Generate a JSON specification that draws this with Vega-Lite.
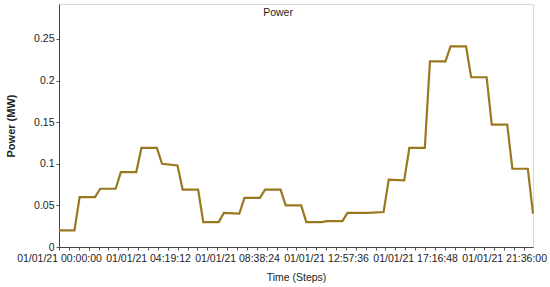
{
  "$schema": "https://vega.github.io/schema/vega-lite/v6.json",
  "width": 474,
  "height": 243,
  "autosize": {"type": "none"},
  "padding": {"left": 59, "top": 4, "right": 17, "bottom": 40},
  "background": "white",
  "config": {
    "view": {"stroke": "#d8d8d8", "strokeWidth": 1},
    "font": "Liberation Sans"
  },
  "encoding": {
    "x": {
      "field": "hour",
      "type": "quantitative",
      "scale": {"domain": [0, 23], "nice": false, "zero": false},
      "axis": {
        "title": "Time (Steps)",
        "titleFont": "Liberation Sans",
        "titleFontSize": 10.5,
        "titleFontWeight": "normal",
        "titleColor": "#222222",
        "titlePadding": 9,
        "values": [0, 0.48, 0.96, 1.44, 1.92, 2.4, 2.88, 3.36, 3.84, 4.32, 4.8, 5.28, 5.76, 6.24, 6.72, 7.2, 7.68, 8.16, 8.64, 9.12, 9.6, 10.08, 10.56, 11.04, 11.52, 12, 12.48, 12.96, 13.44, 13.92, 14.4, 14.88, 15.36, 15.84, 16.32, 16.8, 17.28, 17.76, 18.24, 18.72, 19.2, 19.68, 20.16, 20.64, 21.12, 21.6, 22.08, 22.56],
        "labelExpr": "abs(datum.value/4.32 - round(datum.value/4.32)) < 0.01 ? '01/01/21 ' + utcFormat(round(datum.value*3600)*1000, '%H:%M:%S') : ''",
        "labelOverlap": false,
        "labelBound": false,
        "labelFlush": false,
        "labelFont": "Liberation Sans",
        "labelFontSize": 10.5,
        "labelColor": "#222222",
        "labelPadding": 3,
        "tickSize": 3,
        "tickColor": "#555555",
        "domainColor": "#444444",
        "grid": false
      }
    },
    "y": {
      "field": "power",
      "type": "quantitative",
      "scale": {"domain": [0, 0.292], "nice": false},
      "axis": {
        "title": "Power (MW)",
        "titleFont": "Liberation Sans",
        "titleFontSize": 11,
        "titleFontWeight": "bold",
        "titleColor": "#222222",
        "titlePadding": 17,
        "values": [0, 0.05, 0.1, 0.15, 0.2, 0.25],
        "labelExpr": "datum.value == 0 ? '0' : format(datum.value, '.2~f')",
        "labelFont": "Liberation Sans",
        "labelFontSize": 10.5,
        "labelColor": "#222222",
        "labelPadding": 2,
        "tickSize": 3,
        "tickColor": "#555555",
        "domainColor": "#444444",
        "grid": false
      }
    }
  },
  "layer": [
    {
      "data": {
        "values": [
          {"hour": 0, "power": 0.02}, {"hour": 0.75, "power": 0.02},
          {"hour": 1, "power": 0.06}, {"hour": 1.75, "power": 0.06},
          {"hour": 2, "power": 0.07}, {"hour": 2.75, "power": 0.07},
          {"hour": 3, "power": 0.09}, {"hour": 3.75, "power": 0.09},
          {"hour": 4, "power": 0.119}, {"hour": 4.75, "power": 0.119},
          {"hour": 5, "power": 0.1}, {"hour": 5.75, "power": 0.098},
          {"hour": 6, "power": 0.069}, {"hour": 6.75, "power": 0.069},
          {"hour": 7, "power": 0.03}, {"hour": 7.75, "power": 0.03},
          {"hour": 8, "power": 0.041}, {"hour": 8.75, "power": 0.04},
          {"hour": 9, "power": 0.059}, {"hour": 9.75, "power": 0.059},
          {"hour": 10, "power": 0.069}, {"hour": 10.75, "power": 0.069},
          {"hour": 11, "power": 0.05}, {"hour": 11.75, "power": 0.05},
          {"hour": 12, "power": 0.03}, {"hour": 12.75, "power": 0.03},
          {"hour": 13, "power": 0.031}, {"hour": 13.75, "power": 0.031},
          {"hour": 14, "power": 0.041}, {"hour": 14.75, "power": 0.041},
          {"hour": 15, "power": 0.041}, {"hour": 15.75, "power": 0.042},
          {"hour": 16, "power": 0.081}, {"hour": 16.75, "power": 0.08},
          {"hour": 17, "power": 0.119}, {"hour": 17.75, "power": 0.119},
          {"hour": 18, "power": 0.223}, {"hour": 18.75, "power": 0.223},
          {"hour": 19, "power": 0.241}, {"hour": 19.75, "power": 0.241},
          {"hour": 20, "power": 0.204}, {"hour": 20.75, "power": 0.204},
          {"hour": 21, "power": 0.147}, {"hour": 21.75, "power": 0.147},
          {"hour": 22, "power": 0.094}, {"hour": 22.75, "power": 0.094},
          {"hour": 23, "power": 0.04}
        ]
      },
      "mark": {"type": "line", "color": "#997820", "strokeWidth": 2.2, "strokeJoin": "miter"}
    },
    {
      "data": {"values": [{"label": "Power", "hour": 10.63, "power": 0.278}]},
      "mark": {
        "type": "text",
        "font": "Liberation Sans",
        "fontSize": 10.5,
        "color": "#222222",
        "align": "center",
        "baseline": "alphabetic"
      },
      "encoding": {
        "text": {"field": "label"}
      }
    }
  ]
}
